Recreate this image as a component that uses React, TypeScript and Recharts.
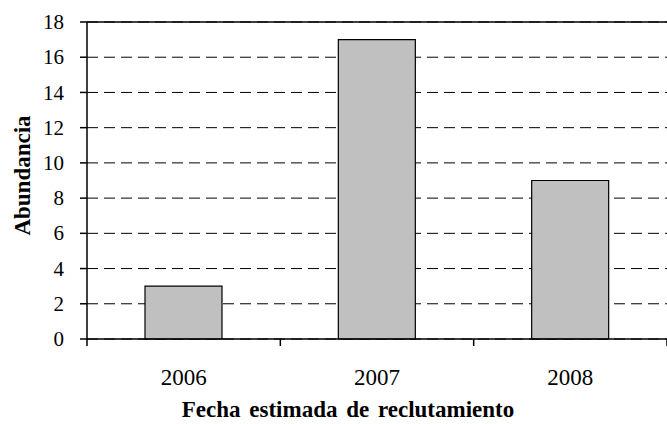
import { BarChart, Bar, XAxis, YAxis, CartesianGrid, ReferenceLine } from "recharts";

const years = ["2006", "2007", "2008"];
const abundance = [3, 17, 9];
const yTicks = [0, 2, 4, 6, 8, 10, 12, 14, 16, 18];

const data = years.map((year, i) => ({ year, value: abundance[i] }));

const font = "Liberation Serif, Times New Roman, serif";

// category label plus tick marks on the category boundaries (Excel style)
function YearTick(props: any) {
  const { x, y, payload, index, visibleTicksCount, width } = props;
  const half = payload.offset || (width ? width / visibleTicksCount / 2 : 0);
  const last = index === visibleTicksCount - 1;
  return (
    <g>
      <line x1={x - half} x2={x - half} y1={y} y2={y + 7} stroke="#000" strokeWidth={1.5} />
      {last && <line x1={x + half} x2={x + half} y1={y} y2={y + 7} stroke="#000" strokeWidth={1.5} />}
      <text x={x} y={y + 46} textAnchor="middle" fontSize={23} fontFamily={font} fill="#000">
        {payload.value}
      </text>
    </g>
  );
}

function ValueTick(props: any) {
  const { x, y, payload } = props;
  return (
    <text x={x} y={y} dy="0.34em" textAnchor="end" fontSize={21} fontFamily={font} fill="#000">
      {payload.value}
    </text>
  );
}

export default function App() {
  return (
    <div style={{ position: "absolute", left: 0, top: 0, background: "#fff" }}>
      <BarChart
        width={667}
        height={424}
        data={data}
        margin={{ top: 22, right: 0, bottom: 0, left: 0 }}
        barCategoryGap="30%"
      >
        <CartesianGrid vertical={false} stroke="#000" strokeDasharray="11 6" />
        <ReferenceLine y={18} stroke="#000" strokeWidth={1.5} />
        <XAxis
          dataKey="year"
          height={85}
          stroke="#000"
          strokeWidth={1.5}
          tickLine={false}
          tickSize={0}
          tickMargin={0}
          interval={0}
          tick={<YearTick />}
          label={{
            content: ({ viewBox }: any) => (
              <text
                x={viewBox.x + viewBox.width / 2 - 29}
                y={viewBox.y + 78}
                textAnchor="middle"
                fontSize={23}
                fontWeight="bold"
                fontFamily={font}
                wordSpacing={3}
                fill="#000"
              >
                Fecha estimada de reclutamiento
              </text>
            ),
          }}
        />
        <YAxis
          width={87}
          domain={[0, 18]}
          ticks={yTicks}
          interval={0}
          stroke="#000"
          strokeWidth={1.5}
          tickSize={7}
          tickMargin={16}
          tick={<ValueTick />}
          label={{
            content: ({ viewBox }: any) => {
              const cx = viewBox.x + 22;
              const cy = viewBox.y + viewBox.height / 2 - 5;
              return (
                <text
                  x={cx}
                  y={cy}
                  transform={`rotate(-90 ${cx} ${cy})`}
                  textAnchor="middle"
                  dominantBaseline="central"
                  fontSize={23}
                  fontWeight="bold"
                  fontFamily={font}
                  fill="#000"
                >
                  Abundancia
                </text>
              );
            },
          }}
        />
        <Bar dataKey="value" fill="#c0c0c0" stroke="#000" strokeWidth={1.2} isAnimationActive={false} />
      </BarChart>
    </div>
  );
}
